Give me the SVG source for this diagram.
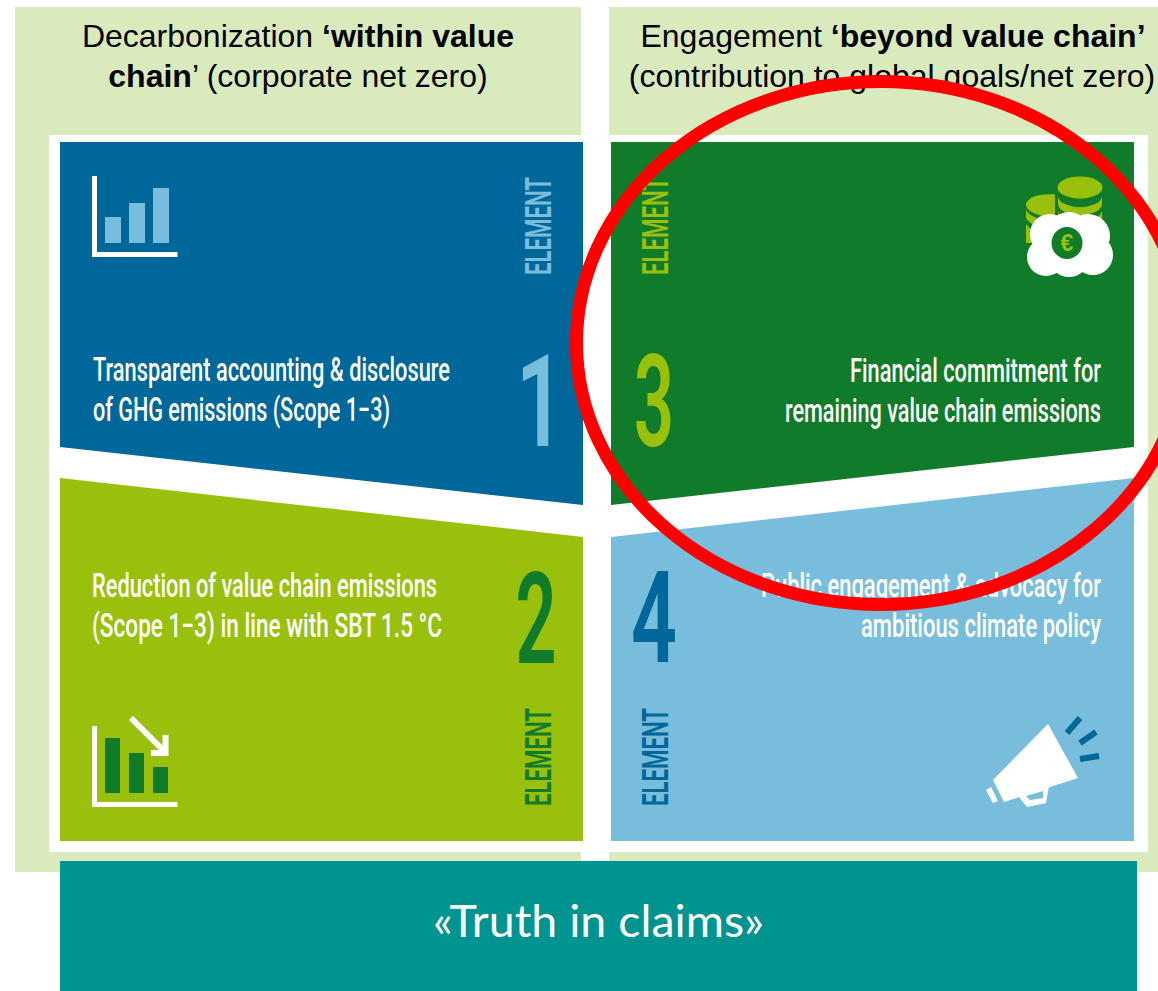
<svg xmlns="http://www.w3.org/2000/svg" width="1158" height="991" viewBox="0 0 1158 991">
<style>
.h{font-family:"Liberation Sans",Arial,sans-serif;font-size:32px;fill:#000}
.b{font-weight:700}
.t{font-family:Roboto,"Liberation Sans",sans-serif;font-size:33px;fill:#fff;font-weight:500}
.n{font-family:Roboto,"Liberation Sans",sans-serif;font-size:128px;font-weight:600}
.e{font-family:Roboto,"Liberation Sans",sans-serif;font-size:37px;font-weight:600}
.w{fill:#fff}.lb{fill:#79bddd}.db{fill:#00679a}.li{fill:#98c00d}.dg{fill:#107c29}
</style>
<rect width="1158" height="991" fill="#fff"/>
<g id="backgrounds">
<rect x="15" y="7" width="566" height="865" fill="#d9eabd"/>
<rect x="609" y="7" width="549" height="865" fill="#d9eabd"/>
<rect x="49" y="135" width="1099" height="717" fill="#fff"/>
</g>
<g id="heading-left">
<text class="h" x="298" y="47" text-anchor="middle">Decarbonization <tspan class="b">‘within value</tspan></text>
<text class="h" x="298" y="87" text-anchor="middle"><tspan class="b">chain</tspan>’ (corporate net zero)</text>
</g>
<g id="heading-right">
<text class="h" x="893" y="47" text-anchor="middle">Engagement <tspan class="b">‘beyond value chain’</tspan></text>
<text class="h" x="892" y="87" text-anchor="middle">(contribution to global goals/net zero)</text>
</g>
<g id="element-1">
<polygon class="db" points="60,142 583,142 583,505 60,447"/>
<path fill="none" stroke="#fff" stroke-width="5" d="M94.500 176V254.500H177.500"/>
<rect class="lb" x="105" y="217" width="16" height="26"/><rect class="lb" x="129" y="203" width="16" height="40"/><rect class="lb" x="153" y="188" width="16" height="55"/>
<text class="e lb" transform="translate(551 275) rotate(-90)" textLength="98" lengthAdjust="spacingAndGlyphs">ELEMENT</text>
<text class="t" x="93" y="381" textLength="357" lengthAdjust="spacingAndGlyphs">Transparent accounting &amp; disclosure</text>
<text class="t" x="93" y="421" textLength="297" lengthAdjust="spacingAndGlyphs">of GHG emissions (Scope 1−3)</text>
<text class="n lb" x="516" y="446" textLength="48" lengthAdjust="spacingAndGlyphs">1</text>
</g>
<g id="element-2">
<polygon class="li" points="60,478 583,537 583,841 60,841"/>
<path fill="none" stroke="#fff" stroke-width="5" d="M94.500 726V804.500H177.500"/>
<rect class="dg" x="105" y="738" width="15" height="55"/><rect class="dg" x="129" y="753" width="15" height="40"/><rect class="dg" x="153" y="767" width="15" height="26"/>
<path fill="none" stroke="#fff" stroke-width="6" d="M131 718L165 752M151 753H165.500V735"/>
<text class="e dg" transform="translate(551 806) rotate(-90)" textLength="98" lengthAdjust="spacingAndGlyphs">ELEMENT</text>
<text class="t" x="92" y="597" textLength="345" lengthAdjust="spacingAndGlyphs">Reduction of value chain emissions</text>
<text class="t" x="92" y="637" textLength="350" lengthAdjust="spacingAndGlyphs">(Scope 1−3) in line with SBT 1.5 °C</text>
<text class="n dg" x="515.500" y="662.500" textLength="41" lengthAdjust="spacingAndGlyphs">2</text>
</g>
<g id="element-3">
<polygon class="dg" points="611,142 1134,142 1134,447 611,505"/>
<g class="li">
<path d="M1055 194.500C1038 193 1026 198 1026 205C1026 211 1038 217 1055 217z"/>
<path d="M1026 210c4 7 16 11 29 11v8c-13 0-25-4-29-11zM1026 224c4 7 16 11 29 11v8h-29z"/>
<ellipse cx="1080" cy="187.500" rx="22.500" ry="11"/>
<path d="M1058 196a22 11 0 0 0 44 0v8a22 11 0 0 1-44 0zM1058 210a22 11 0 0 0 44 0v8a22 11 0 0 1-44 0zM1058 224a22 11 0 0 0 44 0v12h-44z"/>
</g>
<g class="w"><circle cx="1050" cy="234" r="20"/><circle cx="1088" cy="236" r="22"/><circle cx="1069" cy="234" r="22"/><circle cx="1046" cy="257" r="19"/><circle cx="1093" cy="255" r="20"/><circle cx="1069" cy="256" r="21"/></g>
<ellipse class="dg" cx="1067" cy="243" rx="15.500" ry="16"/>
<text x="1067" y="251" text-anchor="middle" font-family="Liberation Sans,sans-serif" font-size="23" font-weight="700" class="li">€</text>
<text class="e li" transform="translate(668 275) rotate(-90)" textLength="98" lengthAdjust="spacingAndGlyphs">ELEMENT</text>
<text class="t" x="850" y="382" textLength="251" lengthAdjust="spacingAndGlyphs">Financial commitment for</text>
<text class="t" x="785" y="422" textLength="316" lengthAdjust="spacingAndGlyphs">remaining value chain emissions</text>
<text class="n li" x="634" y="446" textLength="40" lengthAdjust="spacingAndGlyphs">3</text>
</g>
<g id="element-4">
<polygon class="lb" points="611,537 1134,478 1134,841 611,841"/>
<g class="w">
<polygon points="1048,724 1078,778 1004,802 993,780"/>
<polygon points="986,790 991,787 998,801 993,803"/>
<path fill-rule="evenodd" d="M1019 797L1027 807L1046 803L1049 786L1020 795zM1026 796L1043 791V798L1030 800z"/>
</g>
<path fill="none" stroke="#00679a" stroke-width="6" d="M1080 718L1067 733M1096 732L1080 743M1099 756L1080 759"/>
<text class="e db" transform="translate(668 806) rotate(-90)" textLength="98" lengthAdjust="spacingAndGlyphs">ELEMENT</text>
<text class="t" x="761" y="597" textLength="340" lengthAdjust="spacingAndGlyphs">Public engagement &amp; advocacy for</text>
<text class="t" x="861" y="637" textLength="240" lengthAdjust="spacingAndGlyphs">ambitious climate policy</text>
<text class="n db" x="631" y="662" textLength="46" lengthAdjust="spacingAndGlyphs">4</text>
</g>
<g id="truth-in-claims">
<rect x="60" y="861" width="1077" height="130" fill="#009490"/>
<text x="598.500" y="937" text-anchor="middle" font-family="Lato,'Open Sans',sans-serif" font-size="44" fill="#fff" textLength="331" lengthAdjust="spacingAndGlyphs">«Truth in claims»</text>
</g>
<g id="highlight-ring">
<ellipse cx="881" cy="343" rx="304.500" ry="261.500" fill="none" stroke="#ff0000" stroke-width="13"/>
</g>
</svg>
